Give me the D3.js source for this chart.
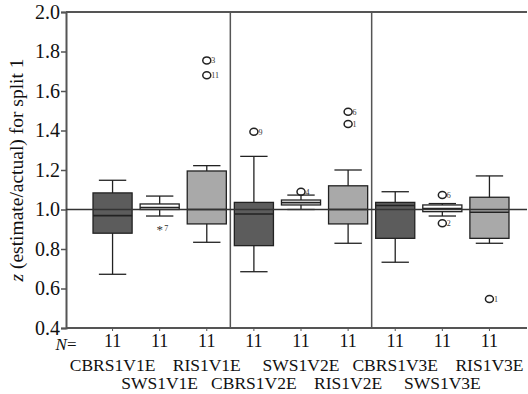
<!DOCTYPE html>
<html>
<head>
<meta charset="utf-8">
<script src="https://cdn.jsdelivr.net/npm/d3@7"></script>
<style>
  body { margin: 0; background: #fff; }
  svg text { font-family: "Liberation Serif", "Times New Roman", "DejaVu Serif", serif !important; }
</style>
</head>
<body>
<div id="viz"></div>
<script>
const width = 528;
const height = 394;
const serif = "'Liberation Serif', 'Times New Roman', serif";

// data
const categories = ["CBRS1V1E", "SWS1V1E", "RIS1V1E", "CBRS1V2E", "SWS1V2E", "RIS1V2E", "CBRS1V3E", "SWS1V3E", "RIS1V3E"];
const counts = [11, 11, 11, 11, 11, 11, 11, 11, 11];
const whiskerLo = [0.672, 0.967, 0.834, 0.685, 1.000, 0.829, 0.733, 0.967, 0.829];
const q1 = [0.880, 1.000, 0.927, 0.817, 1.023, 0.927, 0.854, 0.989, 0.854];
const medians = [0.969, 1.010, 1.000, 0.977, 1.035, 1.000, 1.020, 1.005, 0.986];
const q3 = [1.084, 1.028, 1.195, 1.036, 1.048, 1.120, 1.036, 1.023, 1.062];
const whiskerHi = [1.148, 1.068, 1.222, 1.269, 1.073, 1.200, 1.090, 1.030, 1.170];
const groupType = ["cb", "sw", "ri", "cb", "sw", "ri", "cb", "sw", "ri"];
// outliers: [category index, value, case label, kind]
const outliers = [
    [1, 0.908, "7", "star"],
    [2, 1.755, "3", "circle"],
    [2, 1.680, "11", "circle"],
    [3, 1.394, "9", "circle"],
    [4, 1.090, "4", "circle"],
    [5, 1.495, "6", "circle"],
    [5, 1.433, "1", "circle"],
    [7, 1.073, "6", "circle"],
    [7, 0.930, "2", "circle"],
    [8, 0.547, "1", "circle"]
];
const yTicks = [0.4, 0.6, 0.8, 1.0, 1.2, 1.4, 1.6, 1.8, 2.0];
const fills = {cb: "#5c5c5c", sw: "#ffffff", ri: "#a9a9a9"};

const svg = d3.select("#viz")
    .append("svg")
    .attr("width", width)
    .attr("height", height)
    .attr("font-family", serif);

const margin = {top: 12, right: 1, left: 66, bottom: 66};
const plotRight = width - margin.right;
const plotBottom = height - margin.bottom;

const yScale = d3.scaleLinear()
    .domain([0.4, 2.0])
    .range([plotBottom, margin.top]);

const xScale = d3.scaleBand()
    .domain(categories)
    .range([85, 517])
    .padding(0.17);

const bw = xScale.bandwidth();
const cx = i => xScale(categories[i]) + bw / 2;

// top frame line
svg.append("line")
    .attr("x1", margin.left).attr("x2", plotRight)
    .attr("y1", margin.top).attr("y2", margin.top)
    .attr("stroke", "#555").attr("stroke-width", 2);

// y axis
const yAxis = d3.axisLeft(yScale)
    .tickValues(yTicks)
    .tickFormat(d3.format(".1f"))
    .tickSize(5)
    .tickPadding(1);

const yAxisG = svg.append("g")
    .attr("transform", `translate(${margin.left},0)`)
    .call(yAxis)
    .attr("font-family", serif);
yAxisG.select(".domain").attr("stroke", "#555").attr("stroke-width", 2);
yAxisG.selectAll(".tick line").attr("stroke", "#555").attr("stroke-width", 1.5);
yAxisG.selectAll(".tick text")
    .attr("fill", "#111")
    .attr("font-size", 20);

// x axis with N counts
const xAxis = d3.axisBottom(xScale)
    .tickSize(3)
    .tickPadding(3)
    .tickFormat((d, i) => counts[i]);

const xAxisG = svg.append("g")
    .attr("transform", `translate(0,${plotBottom})`)
    .call(xAxis)
    .attr("font-family", serif);
xAxisG.select(".domain").remove();
xAxisG.selectAll(".tick line").attr("stroke", "#555");
xAxisG.selectAll(".tick text")
    .attr("fill", "#111")
    .attr("font-size", 18);

svg.append("line")
    .attr("x1", margin.left).attr("x2", plotRight)
    .attr("y1", plotBottom).attr("y2", plotBottom)
    .attr("stroke", "#555").attr("stroke-width", 2);

svg.append("text")
    .attr("x", 66).attr("y", plotBottom + 22)
    .attr("text-anchor", "middle")
    .attr("font-size", 17)
    .attr("fill", "#111")
    .html('<tspan font-style="italic">N</tspan>=');

// category labels on two rows
svg.append("g").selectAll("text")
    .data(categories)
    .enter().append("text")
        .attr("x", (d, i) => cx(i))
        .attr("y", (d, i) => i % 2 === 0 ? 371 : 389)
        .attr("text-anchor", "middle")
        .attr("fill", "#111")
        .attr("font-size", 17.5)
        .text(d => d);

// group separators
[3, 6].forEach(k => {
    const x = xScale(categories[k]) - (xScale.step() - bw) / 2;
    svg.append("line")
        .attr("x1", x).attr("x2", x)
        .attr("y1", margin.top).attr("y2", plotBottom)
        .attr("stroke", "#555").attr("stroke-width", 1.5);
});

// y label
svg.append("text")
    .attr("transform", `translate(23,170) rotate(-90)`)
    .attr("text-anchor", "middle")
    .attr("fill", "#111")
    .attr("font-size", 19.5)
    .html('<tspan font-style="italic">z</tspan> (estimate/actual) for split 1');

// boxes
const boxes = svg.append("g").selectAll("g")
    .data(categories)
    .enter().append("g");

const capW = bw * 0.7;

boxes.append("line")
    .attr("x1", (d, i) => cx(i)).attr("x2", (d, i) => cx(i))
    .attr("y1", (d, i) => yScale(whiskerLo[i]))
    .attr("y2", (d, i) => yScale(whiskerHi[i]))
    .attr("stroke", "#222").attr("stroke-width", 1.3);

boxes.selectAll(".cap")
    .data((d, i) => [[i, whiskerLo[i]], [i, whiskerHi[i]]])
    .enter().append("line")
        .attr("x1", d => cx(d[0]) - capW / 2)
        .attr("x2", d => cx(d[0]) + capW / 2)
        .attr("y1", d => yScale(d[1]))
        .attr("y2", d => yScale(d[1]))
        .attr("stroke", "#222").attr("stroke-width", 1.3);

boxes.append("rect")
    .attr("x", (d, i) => xScale(d))
    .attr("width", bw)
    .attr("y", (d, i) => yScale(q3[i]))
    .attr("height", (d, i) => yScale(q1[i]) - yScale(q3[i]))
    .attr("fill", (d, i) => fills[groupType[i]])
    .attr("stroke", "#222").attr("stroke-width", 1.3);

boxes.append("line")
    .attr("x1", (d, i) => xScale(d)).attr("x2", (d, i) => xScale(d) + bw)
    .attr("y1", (d, i) => yScale(medians[i]))
    .attr("y2", (d, i) => yScale(medians[i]))
    .attr("stroke", "#222").attr("stroke-width", 1.6);

// reference line at 1.0
svg.append("line")
    .attr("x1", margin.left).attr("x2", plotRight)
    .attr("y1", yScale(1.0)).attr("y2", yScale(1.0))
    .attr("stroke", "#333").attr("stroke-width", 1.3);

// outliers
const outG = svg.append("g").selectAll("g")
    .data(outliers)
    .enter().append("g")
        .attr("transform", d => `translate(${cx(d[0])},${yScale(d[1])})`);

outG.filter(d => d[3] === "circle").append("ellipse")
    .attr("rx", 4).attr("ry", 3.5)
    .attr("fill", "none")
    .attr("stroke", "#222").attr("stroke-width", 1.5);

outG.filter(d => d[3] === "star").append("text")
    .attr("x", 0).attr("y", 6)
    .attr("text-anchor", "middle")
    .attr("font-size", 13)
    .attr("fill", "#333")
    .text("*");

outG.append("text")
    .attr("x", 4.5).attr("y", 3)
    .attr("font-size", 8)
    .attr("fill", "#333")
    .text(d => d[2]);
</script>
</body>
</html>
